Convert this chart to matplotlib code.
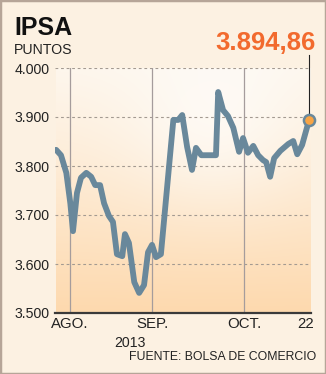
import numpy as np
import matplotlib.pyplot as plt
from matplotlib.patches import Rectangle

# session position (trading-day index) and IPSA points
sessions = [0.0, 1.1, 2.3, 3.2, 3.8, 4.7, 5.6, 6.8, 7.9, 8.8, 9.9, 10.8, 11.9,
            12.8, 13.7, 14.9, 15.5, 16.4, 17.6, 18.7, 19.8, 20.7, 21.6, 22.5,
            23.6, 26.4, 27.5, 28.4, 29.5, 30.6, 31.5, 32.7, 35.1, 36.0, 36.5,
            37.6, 38.7, 39.9, 41.2, 42.1, 43.2, 44.4, 45.5, 46.6, 47.3, 48.2,
            49.1, 50.5, 52.3, 53.4, 54.3, 55.4, 57.0]
ipsa = [3833, 3822, 3786, 3724, 3667, 3745, 3776, 3786, 3778, 3761, 3761,
        3724, 3698, 3686, 3620, 3616, 3661, 3643, 3563, 3541, 3557, 3624,
        3639, 3614, 3620, 3894, 3894, 3904, 3839, 3792, 3837, 3822, 3822,
        3822, 3951, 3914, 3902, 3878, 3829, 3857, 3827, 3841, 3822, 3812,
        3808, 3778, 3816, 3831, 3845, 3851, 3824, 3843, 3894.86]

month_pos = [3.15, 21.6, 42.3]
month_labels = ["AGO.", "SEP.", "OCT."]
last_label_pos = 56.1
yticks = [3500, 3600, 3700, 3800, 3900, 4000]
ytick_labels = ["3.500", "3.600", "3.700", "3.800", "3.900", "4.000"]

BG = "#fcf1e2"
LINE = "#69889b"
ORANGE = "#f26a2e"
narrow = ["Liberation Sans Narrow", "Liberation Sans", "DejaVu Sans"]
regular = ["Liberation Sans", "DejaVu Sans"]

W, H = 326, 374
fig = plt.figure(figsize=(W / 100, H / 100), dpi=100, facecolor=BG)
ax = fig.add_axes([55 / W, 1 - 313 / H, (311 - 55) / W, (313 - 68) / H])
ax.set_facecolor(BG)
ax.set_xlim(-0.25, 57.4)
ax.set_ylim(3500, 4000)

# background gradient: pale near the top, peach at the bottom
ny, nx = 200, 200
t = np.linspace(0, 1, ny)[:, None] * np.ones((1, nx))
u = np.ones((ny, 1)) * np.linspace(0, 1, nx)[None, :]
top = np.array([253, 246, 236]) / 255
bot = np.array([253, 217, 174]) / 255
f = t ** 1.1
img = top[None, None, :] * (1 - f[..., None]) + bot[None, None, :] * f[..., None]
glow = np.exp(-(((u - 0.62) / 0.35) ** 2 + ((t - 0.2) / 0.35) ** 2))
img = img + (1 - img) * 0.6 * glow[..., None]
ax.imshow(np.clip(img, 0, 1), extent=[0, 57.4, 3500, 4000], aspect="auto",
          zorder=0, origin="upper")

for yv in yticks[1:]:
    ax.axhline(yv, color="#a39a91", lw=0.8, ls=(0, (2.5, 2.5)), zorder=1)
for xv in month_pos:
    ax.axvline(xv, color="#a59c9c", lw=0.9, zorder=1)

ax.plot(sessions, ipsa, color=LINE, lw=4.2, solid_joinstyle="round",
        solid_capstyle="round", zorder=3)
ax.plot(sessions[-1], ipsa[-1], "o", ms=8, mfc="#f7a445", mec=LINE, mew=1.8,
        zorder=5, clip_on=False)
ax.plot([sessions[-1], sessions[-1]], [ipsa[-1], 4027], color="#222222",
        lw=0.8, zorder=4, clip_on=False)
ax.text(58.4, 4051, "3.894,86", color=ORANGE, fontsize=18.5,
        fontweight="bold", family=regular, ha="right", va="center")

for s in ["top", "right", "left"]:
    ax.spines[s].set_visible(False)
ax.spines["bottom"].set_color("#3a3a3a")
ax.spines["bottom"].set_linewidth(1.6)
ax.spines["bottom"].set_zorder(6)

ax.set_yticks(yticks)
ax.set_yticklabels(ytick_labels, family=regular, fontsize=10.2, color="#222")
ax.set_xticks(month_pos + [last_label_pos])
ax.set_xticklabels(month_labels + ["22"], family=narrow, fontsize=10.8,
                   color="#222")
ax.tick_params(length=0, axis="y", pad=4)
ax.tick_params(length=0, axis="x", pad=3)

ax.text(16.7, 3439, "2013", family=regular, fontsize=10.2, color="#222",
        ha="center", va="center")

fig.text(14 / W, 1 - 28 / H, "IPSA", family=regular, fontweight="bold",
         fontsize=18, color="#111", va="center", ha="left")
fig.text(14 / W, 1 - 50 / H, "PUNTOS", family=narrow, fontsize=10.2,
         color="#222", va="center", ha="left")
fig.text(316 / W, 1 - 357 / H, "FUENTE: BOLSA DE COMERCIO", family=narrow,
         fontsize=8.8, color="#222", va="center", ha="right")

fig.patches.append(Rectangle((0, 0), 1, 1, transform=fig.transFigure,
                             fill=False, edgecolor="#b6a598", lw=2.5))

fig.savefig("out.png", dpi=100, facecolor=BG)
